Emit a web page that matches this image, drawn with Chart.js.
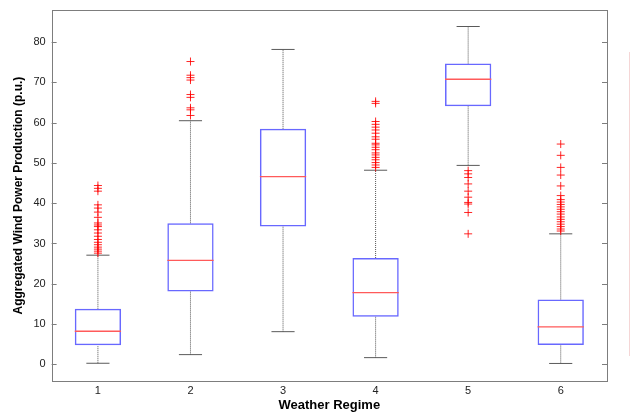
<!DOCTYPE html>
<html>
<head>
<meta charset="utf-8">
<script src="https://cdn.jsdelivr.net/npm/chart.js@4.4.1/dist/chart.umd.min.js"></script>
<style>
  html, body { margin: 0; padding: 0; background: #fff; }
  #wrap { width: 640px; height: 412px; }
</style>
</head>
<body>
<div id="wrap"><canvas id="chart"></canvas></div>
<script>
// box plot values per weather regime
var regimes = [1, 2, 3, 4, 5, 6];
var q1 = [4.7, 18.1, 34.2, 11.8, 64.1, 4.8];
var median = [8.2, 25.8, 46.6, 17.8, 70.8, 9.3];
var q3 = [13.8, 35.0, 58.5, 26.4, 74.7, 16.1];
var whiskerLow = [0.25, 2.4, 8.1, 1.65, 49.4, 0.2];
var whiskerHigh = [27.1, 60.5, 78.2, 48.2, 83.9, 32.4];

var outliers1 = [44.4, 43.7, 43.0, 39.6, 38.8, 37.8, 36.5, 35.1, 34.6, 34.2, 33.4, 32.6, 31.8, 31.0, 30.3, 29.7, 29.1, 28.6, 28.1, 27.6];
var outliers2 = [75.2, 71.8, 71.2, 70.6, 67.0, 66.3, 63.7, 63.2, 61.8];
var outliers3 = [];
var outliers4 = [65.3, 64.8, 60.3, 59.6, 58.9, 58.2, 57.4, 56.5, 55.9, 54.9, 54.5, 53.9, 53.3, 52.5, 52.0, 51.4, 50.8, 50.1, 49.5, 48.9];
var outliers5 = [48.1, 47.3, 46.4, 44.8, 43.0, 41.5, 40.2, 39.8, 37.7, 32.4];
var outliers6 = [54.7, 51.9, 48.9, 47.0, 44.3, 41.9, 40.9, 40.3, 39.7, 39.1, 38.5, 37.9, 37.3, 36.6, 36.0, 35.4, 34.8, 34.2, 33.6, 33.1];
var outliers = [outliers1, outliers2, outliers3, outliers4, outliers5, outliers6];

var yTicks = [0, 10, 20, 30, 40, 50, 60, 70, 80];

var halfBox = 0.25, halfCap = 0.125;

// build segment lists (null point = gap)
var whiskerPts = [], capPts = [], medianPts = [], boxPts = [], outlierPts = [];
regimes.forEach(function(r, i) {
    whiskerPts.push({x: r, y: whiskerLow[i]}, {x: r, y: q1[i]}, {x: r, y: null});
    whiskerPts.push({x: r, y: q3[i]}, {x: r, y: whiskerHigh[i]}, {x: r, y: null});
    capPts.push({x: r - halfCap, y: whiskerLow[i]}, {x: r + halfCap, y: whiskerLow[i]}, {x: r, y: null});
    capPts.push({x: r - halfCap, y: whiskerHigh[i]}, {x: r + halfCap, y: whiskerHigh[i]}, {x: r, y: null});
    medianPts.push({x: r - halfBox, y: median[i]}, {x: r + halfBox, y: median[i]}, {x: r, y: null});
    boxPts.push({x: r, y: [q1[i], q3[i]]});
    outliers[i].forEach(function(v) { outlierPts.push({x: r, y: v}); });
});

var framePlugin = {
    id: 'frame',
    afterDraw: function(chart) {
        var ctx = chart.ctx, a = chart.chartArea, ys = chart.scales.y;
        ctx.save();
        ctx.strokeStyle = '#7d7d7d';
        ctx.lineWidth = 1;
        ctx.strokeRect(Math.round(a.left) + 0.5, Math.round(a.top) + 0.5,
            Math.round(a.right - a.left), Math.round(a.bottom - a.top));
        ctx.beginPath();
        yTicks.forEach(function(t) {
            var p = Math.round(ys.getPixelForValue(t)) + 0.5;
            ctx.moveTo(a.left, p); ctx.lineTo(a.left + 5, p);
            ctx.moveTo(a.right, p); ctx.lineTo(a.right - 5, p);
        });
        ctx.stroke();
        // faint line at the right edge of the figure
        ctx.strokeStyle = '#f5d6d6';
        ctx.beginPath();
        ctx.moveTo(629.5, 52); ctx.lineTo(629.5, 356);
        ctx.stroke();
        ctx.restore();
    }
};

var ctx = document.getElementById('chart').getContext('2d');
var chart = new Chart(ctx, {
    type: 'scatter',
    data: {
        datasets: [
            {
                type: 'scatter', data: outlierPts, order: 0,
                pointStyle: 'cross', pointRadius: 4, pointHoverRadius: 4,
                borderColor: 'rgba(255,0,0,0.85)', borderWidth: 1
            },
            {
                type: 'line', data: medianPts, order: 1, spanGaps: false,
                borderColor: '#ff5a5a', borderWidth: 1.3, pointRadius: 0
            },
            {
                type: 'bar', data: boxPts, order: 2,
                backgroundColor: 'rgba(0,0,0,0)', borderColor: '#6868ff',
                borderWidth: 1.5, borderSkipped: false,
                barPercentage: 0.5, categoryPercentage: 1
            },
            {
                type: 'line', data: capPts, order: 3, spanGaps: false,
                borderColor: '#5a5a5a', borderWidth: 1, pointRadius: 0
            },
            {
                type: 'line', data: whiskerPts, order: 4, spanGaps: false,
                borderColor: '#555', borderWidth: 1, borderDash: [1, 1], pointRadius: 0
            }
        ]
    },
    options: {
        responsive: true,
        maintainAspectRatio: false,
        animation: false,
        layout: { padding: { top: 10, right: 33, left: 11, bottom: 2 } },
        plugins: { legend: { display: false }, tooltip: { enabled: false } },
        scales: {
            x: {
                type: 'linear', min: 0.5, max: 6.5, offset: false,
                afterBuildTicks: function(scale) {
                    scale.ticks = regimes.map(function(r) { return {value: r}; });
                },
                afterFit: function(scale) { scale.paddingLeft = 0; scale.paddingRight = 0; },
                grid: { display: false, drawTicks: false },
                border: { display: false },
                ticks: { color: '#222', padding: 3, font: { family: 'Arial', size: 11 } },
                title: {
                    display: true, text: 'Weather Regime', color: '#000',
                    padding: { top: 0, bottom: 0 },
                    font: { family: 'Arial', size: 13, weight: 'bold', lineHeight: 0.74 }
                }
            },
            y: {
                min: -4.2, max: 88,
                afterBuildTicks: function(scale) {
                    scale.ticks = yTicks.map(function(v) { return {value: v}; });
                },
                afterFit: function(scale) { scale.paddingTop = 0; scale.paddingBottom = 0; },
                grid: { display: false, drawTicks: false },
                border: { display: false },
                ticks: { color: '#222', padding: 6, font: { family: 'Arial', size: 11 } },
                title: {
                    display: true, text: 'Aggregated Wind Power Production (p.u.)', color: '#000',
                    padding: { top: 0, bottom: 2 },
                    font: { family: 'Arial', size: 12, weight: 'bold' }
                }
            }
        }
    },
    plugins: [framePlugin]
});
</script>
</body>
</html>
